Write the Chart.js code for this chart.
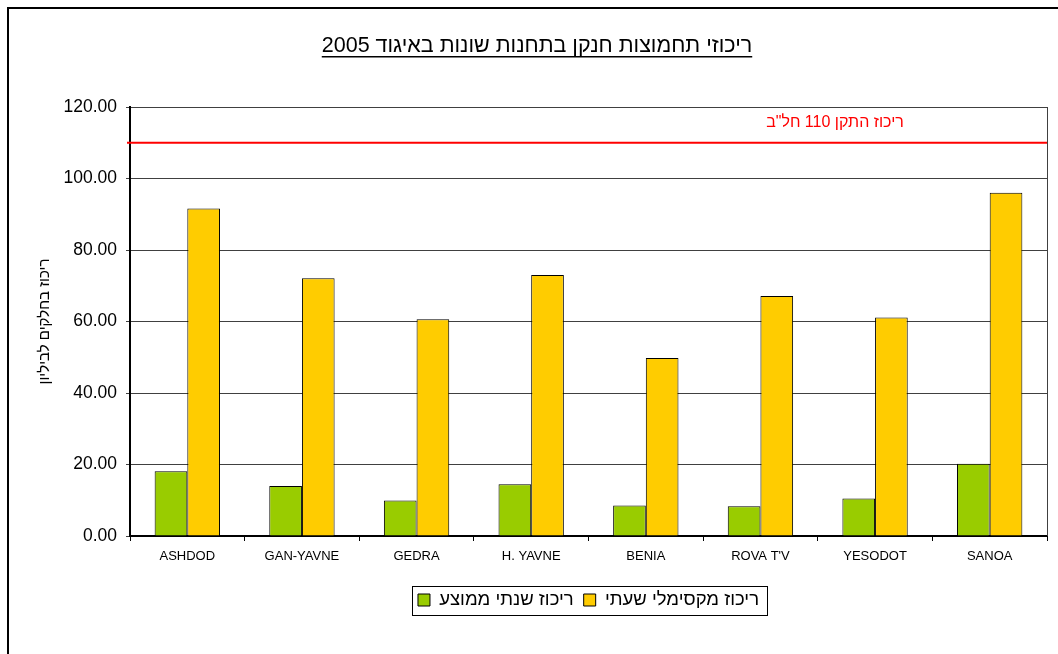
<!DOCTYPE html>
<html>
<head>
<meta charset="utf-8">
<script src="https://cdn.jsdelivr.net/npm/chart.js@4.4.1/dist/chart.umd.min.js"></script>
<style>
  body { margin: 0; background: #fff; }
  #chart { display: block; }
</style>
</head>
<body>
<canvas id="chart" width="1058" height="654"></canvas>
<script>
// NOx concentrations per station, 2005
const categories = ['ASHDOD', 'GAN-YAVNE', 'GEDRA', 'H. YAVNE', 'BENIA', "ROVA T'V", 'YESODOT', 'SANOA'];
const annualAvg = [18.1, 14.0, 9.9, 14.5, 8.5, 8.3, 10.5, 20.2];
const hourlyMax = [91.6, 72.1, 60.6, 73.0, 49.8, 67.1, 61.1, 96.0];
const yTicks = [0, 20, 40, 60, 80, 100, 120];
const standardValue = 110;

const titleText = 'ריכוזי תחמוצות חנקן בתחנות שונות באיגוד 2005';
const standardLabel = 'ריכוז התקן 110 חל"ב';
const yTitle = 'ריכוז בחלקים לביליון';
const seriesLabels = ['ריכוז שנתי ממוצע', 'ריכוז מקסימלי שעתי'];

const FONT = "'Liberation Sans', Arial, sans-serif";

const framePlugin = {
    id: 'frame',
    beforeDraw(chart) {
        const c = chart.ctx;
        c.save();
        c.fillStyle = '#fff';
        c.fillRect(0, 0, chart.width, chart.height);
        c.strokeStyle = '#000';
        c.lineWidth = 2;
        c.strokeRect(8, 8, chart.width, chart.height);
        c.restore();
    },
    afterLayout(chart) {
        // center legend under the plot area
        const lg = chart.legend;
        const area = chart.chartArea;
        const d = (area.left + area.right) / 2 - (lg.left + lg.right) / 2;
        lg.left += d;
        lg.right += d;
    },
    afterDraw(chart) {
        const c = chart.ctx;
        const area = chart.chartArea;
        c.save();
        // plot area right border
        c.strokeStyle = '#404040';
        c.lineWidth = 1;
        c.beginPath();
        c.moveTo(area.right + 0.5, area.top);
        c.lineTo(area.right + 0.5, area.bottom);
        c.stroke();

        // title with underline
        const cx = 8 + chart.width / 2;
        c.font = '21.5px ' + FONT;
        c.fillStyle = '#000';
        c.direction = 'rtl';
        c.textAlign = 'center';
        c.textBaseline = 'middle';
        c.fillText(titleText, cx, 46);
        const w = c.measureText(titleText).width;
        c.fillRect(cx - w / 2, 56, w, 1.5);

        // legend border
        const boxes = chart.legend.legendHitBoxes;
        if (boxes && boxes.length) {
            const l = boxes[0].left;
            const r = boxes[boxes.length - 1].left + boxes[boxes.length - 1].width;
            const t = boxes[0].top;
            const h = boxes[0].height;
            c.strokeStyle = '#000';
            c.lineWidth = 1;
            c.strokeRect(Math.round(l - 6) + 0.5, Math.round(t - 5) + 0.5, Math.round(r - l + 14), Math.round(h + 10));
        }
        c.restore();
    },
    afterDatasetsDraw(chart) {
        const c = chart.ctx;
        const area = chart.chartArea;
        const y = chart.scales.y.getPixelForValue(standardValue);
        c.save();
        c.strokeStyle = '#FF0000';
        c.lineWidth = 2;
        c.beginPath();
        c.moveTo(area.left - 3, y);
        c.lineTo(area.right, y);
        c.stroke();
        c.font = '16px ' + FONT;
        c.fillStyle = '#FF0000';
        c.direction = 'rtl';
        c.textAlign = 'center';
        c.textBaseline = 'middle';
        c.fillText(standardLabel, area.right - 212, y - 20);
        c.restore();
    }
};

new Chart(document.getElementById('chart'), {
    type: 'bar',
    data: {
        labels: categories,
        datasets: [{
            label: seriesLabels[0],
            data: annualAvg,
            backgroundColor: '#99CC00',
            borderColor: '#000',
            borderWidth: 1
        }, {
            label: seriesLabels[1],
            data: hourlyMax,
            backgroundColor: '#FFCC00',
            borderColor: '#000',
            borderWidth: 1
        }]
    },
    options: {
        responsive: false,
        animation: false,
        devicePixelRatio: 1,
        layout: { padding: { left: 0, right: 11, top: 107, bottom: 34.75 } },
        datasets: { bar: { categoryPercentage: 0.57, barPercentage: 1 } },
        plugins: {
            title: { display: false },
            tooltip: { enabled: false },
            legend: {
                position: 'bottom',
                labels: {
                    boxWidth: 12,
                    boxHeight: 12,
                    padding: 10,
                    color: '#000',
                    font: { family: FONT, size: 18.5 }
                }
            }
        },
        scales: {
            x: {
                ticks: { color: '#000', font: { family: FONT, size: 13 }, padding: 8, maxRotation: 0, autoSkip: false },
                grid: { drawOnChartArea: false, drawTicks: true, tickLength: 5, color: '#000', offset: true },
                border: { color: '#000', width: 2 },
                afterFit: s => { s.height = 44.75; }
            },
            y: {
                min: 0,
                max: 120,
                afterBuildTicks: s => { s.ticks = yTicks.map(v => ({ value: v })); },
                ticks: { color: '#000', font: { family: FONT, size: 17.5 }, padding: 9, callback: v => Number(v).toFixed(2) },
                grid: { color: '#404040', lineWidth: 1, tickLength: 4 },
                border: { color: '#000', width: 2 },
                title: { display: true, text: yTitle, color: '#000', font: { family: FONT, size: 15 }, padding: { top: 36, bottom: 0 } },
                afterFit: s => { s.width = 130; }
            }
        }
    },
    plugins: [framePlugin]
});
</script>
</body>
</html>
